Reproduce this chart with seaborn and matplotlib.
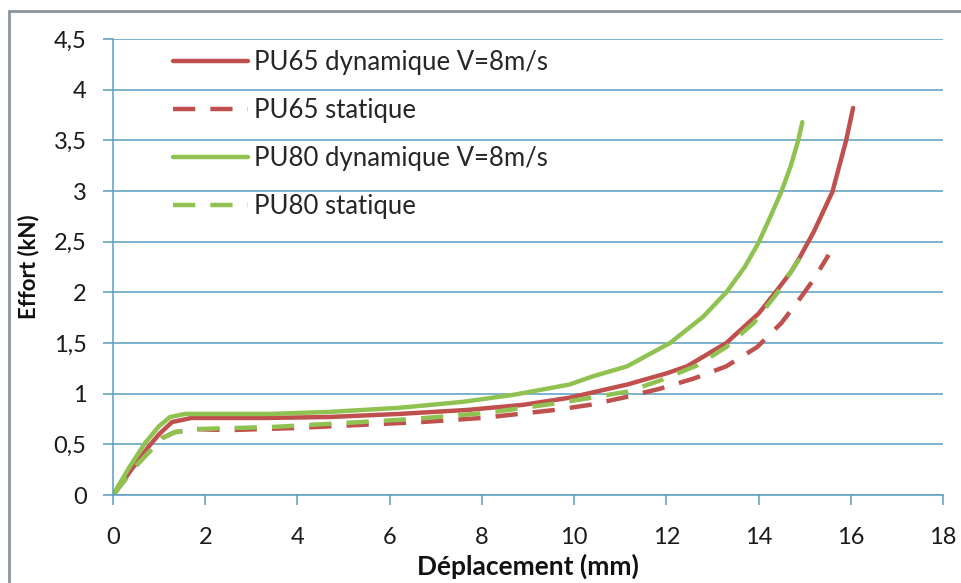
import matplotlib
matplotlib.use("Agg")
import matplotlib.pyplot as plt
import numpy as np
import pandas as pd
import seaborn as sns
from matplotlib.ticker import FuncFormatter
from matplotlib.patches import Rectangle
from matplotlib.lines import Line2D

sns.set_theme(style="white")
plt.rcParams['font.family'] = ['Lato', 'DejaVu Sans']

# Essais de compression : effort (kN) en fonction du déplacement (mm)
series_names = ["PU65 dynamique V=8m/s", "PU65 statique",
                "PU80 dynamique V=8m/s", "PU80 statique"]

pu65_dyn_x = [0, 0.4, 0.76, 1.0, 1.28, 1.7, 2.4, 3.3, 4.7, 6.2, 7.7, 8.9, 9.9,
              11.15, 12.0, 12.45, 13.3, 14.0, 14.4, 14.7, 14.9, 15.2, 15.6, 15.9, 16.05]
pu65_dyn_y = [0, 0.25, 0.47, 0.6, 0.72, 0.76, 0.76, 0.76, 0.77, 0.80, 0.84, 0.89, 0.96,
              1.09, 1.2, 1.27, 1.5, 1.79, 2.02, 2.2, 2.35, 2.6, 2.99, 3.5, 3.82]

pu65_sta_x = [0, 0.5, 1.06, 1.34, 1.78, 2.5, 3.9, 5.3, 6.7, 8.0, 9.6, 10.35, 11.06,
              11.87, 12.6, 13.3, 13.97, 14.5, 14.9, 15.2, 15.52]
pu65_sta_y = [0, 0.29, 0.56, 0.62, 0.65, 0.64, 0.66, 0.69, 0.72, 0.76, 0.84, 0.89, 0.96,
              1.05, 1.15, 1.27, 1.46, 1.70, 1.94, 2.13, 2.37]

pu80_dyn_x = [0, 0.35, 0.69, 1.0, 1.24, 1.56, 2.4, 3.4, 4.7, 6.2, 7.6, 8.7, 9.9,
              10.4, 11.15, 12.08, 12.8, 13.3, 13.7, 14.0, 14.26, 14.5, 14.7, 14.86, 14.95]
pu80_dyn_y = [0, 0.27, 0.51, 0.68, 0.77, 0.80, 0.80, 0.80, 0.82, 0.86, 0.92, 0.99, 1.09,
              1.17, 1.27, 1.50, 1.76, 2.0, 2.25, 2.49, 2.75, 3.0, 3.25, 3.5, 3.68]

pu80_sta_x = [0, 0.5, 1.06, 1.34, 1.78, 2.5, 3.4, 5.0, 6.5, 8.1, 9.7, 10.5, 11.15,
              11.87, 12.67, 13.3, 13.9, 14.4, 14.9]
pu80_sta_y = [0, 0.29, 0.56, 0.62, 0.65, 0.66, 0.67, 0.71, 0.75, 0.81, 0.91, 0.97, 1.02,
              1.13, 1.28, 1.46, 1.70, 1.99, 2.34]

x_ticks = [0, 2, 4, 6, 8, 10, 12, 14, 16, 18]
y_ticks = [0, 0.5, 1, 1.5, 2, 2.5, 3, 3.5, 4, 4.5]

red = "#c0504d"
green = "#8fc250"
grid_blue = "#5a9cc0"

frames = []
for name, xs, ys in zip(series_names,
                        [pu65_dyn_x, pu65_sta_x, pu80_dyn_x, pu80_sta_x],
                        [pu65_dyn_y, pu65_sta_y, pu80_dyn_y, pu80_sta_y]):
    frames.append(pd.DataFrame({"Déplacement": xs, "Effort": ys, "Essai": name}))
df = pd.concat(frames, ignore_index=True)

palette = dict(zip(series_names, [red, red, green, green]))
dash_pat = (5.0, 3.4)
dashes = dict(zip(series_names, ["", dash_pat, "", dash_pat]))

fig = plt.figure(figsize=(9.62, 5.83), dpi=100)
ax = fig.add_axes([113 / 962, 1 - 495 / 583, (943 - 113) / 962, (495 - 39) / 583])

sns.lineplot(data=df, x="Déplacement", y="Effort", hue="Essai", style="Essai",
             palette=palette, dashes=dashes, sort=False, estimator=None,
             linewidth=3.2, ax=ax, legend=False)

ax.set_xlim(0, 18)
ax.set_ylim(0, 4.5)
ax.set_xticks(x_ticks)
ax.set_yticks(y_ticks)
ax.yaxis.set_major_formatter(FuncFormatter(lambda v, p: f"{v:g}".replace(".", ",")))

ax.grid(axis="y", color=grid_blue, linewidth=1.1)
ax.grid(axis="x", visible=False)
for s in ["top", "right"]:
    ax.spines[s].set_visible(False)
for s in ["left", "bottom"]:
    ax.spines[s].set_color(grid_blue)
    ax.spines[s].set_linewidth(1.1)

ax.tick_params(axis="x", direction="out", length=7, width=1.1, color=grid_blue,
               bottom=True, labelsize=17, pad=16, labelcolor="#1a1a1a")
ax.tick_params(axis="y", direction="out", length=7, width=1.1, color=grid_blue,
               left=True, labelsize=17, pad=12, labelcolor="#1a1a1a")

ax.set_xlabel("Déplacement (mm)", fontsize=19, fontweight="bold", labelpad=4, color="#111111")
ax.set_ylabel("Effort (kN)", fontsize=16, fontweight="bold", labelpad=10, color="#111111")

handles = [Line2D([], [], color=palette[n], linewidth=3.2,
                  linestyle="-" if dashes[n] == "" else (0, dash_pat))
           for n in series_names]
ax.legend(handles, series_names, loc="upper left",
          bbox_to_anchor=(173 / 962, 1 - 50 / 583), bbox_transform=fig.transFigure,
          frameon=False, fontsize=18.5, handlelength=2.9, handletextpad=0.25,
          labelspacing=0.9, borderpad=0, borderaxespad=0)

fig.add_artist(Rectangle((9 / 962, -0.05), 1.1, 1 - 11 / 583 + 0.05,
                         transform=fig.transFigure, fill=False,
                         edgecolor="#8c959b", linewidth=2, clip_on=False))

fig.savefig("out.png", dpi=100, facecolor="white")
